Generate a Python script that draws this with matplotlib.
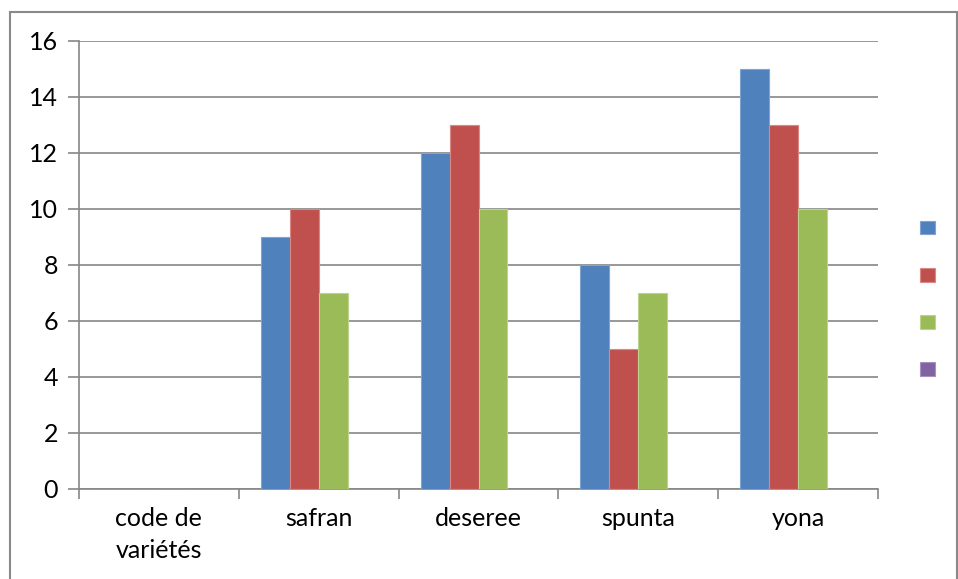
import numpy as np
import matplotlib
matplotlib.use("Agg")
import matplotlib.pyplot as plt
from matplotlib.patches import Rectangle

# ── Daten ─────────────────────────────────────────────────────────────────────
categories = ["code de\nvariétés", "safran", "deseree", "spunta", "yona"]
serie_1 = [0, 9, 12, 8, 15]
serie_2 = [0, 10, 13, 5, 13]
serie_3 = [0, 7, 10, 7, 10]
serie_4 = [0, 0, 0, 0, 0]
series = [serie_1, serie_2, serie_3, serie_4]
colors = ["#4F81BD", "#C0504D", "#9BBB59", "#8064A2"]
edges = ["#7FA3D3", "#D98885", "#BCD48C", "#A690C0"]
y_ticks = [0, 2, 4, 6, 8, 10, 12, 14, 16]

plt.rcParams["font.family"] = ["Lato", "DejaVu Sans"]

fig = plt.figure(figsize=(9.58, 5.79), dpi=100)
ax = fig.add_axes([79 / 958, 1 - 489 / 579, (878 - 79) / 958, (489 - 41) / 579])

x = np.arange(len(categories))
w = 0.181
handles = []
for k, (vals, c, ec) in enumerate(zip(series, colors, edges)):
    b = ax.bar(x + (k - 1.5) * w, vals, width=w, color=c, edgecolor=ec,
               linewidth=0.8, zorder=3)
    handles.append(b)

grid_c = "#868686"
ax.set_xlim(-0.5, len(categories) - 0.5)
ax.set_ylim(0, 16)
ax.set_yticks(y_ticks)
ax.yaxis.grid(True, color=grid_c, lw=1.2, zorder=0)
ax.set_xticks(x)
ax.set_xticklabels(categories, fontsize=18, linespacing=1.45)
ax.set_xticks(np.arange(-0.5, len(categories)), minor=True)
ax.tick_params(axis="x", which="major", length=0, pad=13)
ax.tick_params(axis="x", which="minor", length=7, width=1.2, color=grid_c)
ax.tick_params(axis="y", length=8, width=1.2, color=grid_c, labelsize=18, pad=7)
for s in ["top", "right"]:
    ax.spines[s].set_visible(False)
for s in ["left", "bottom"]:
    ax.spines[s].set_color(grid_c)
    ax.spines[s].set_linewidth(1.2)

# Legende ohne Beschriftung, nur Farbquadrate
fig.legend(handles, ["", "", "", ""], loc="center left",
           bbox_to_anchor=(920 / 958, 1 - 299 / 579), frameon=False,
           handlelength=1.0, handleheight=1.0, labelspacing=2.1,
           handletextpad=0, fontsize=11, borderpad=0, borderaxespad=0)

fig.patches.append(Rectangle((9.5 / 958, -0.05), (956.5 - 9.5) / 958,
                             1.05 - 11.5 / 579, transform=fig.transFigure,
                             fill=False, edgecolor="#898989", lw=1.5))

fig.savefig("out.png", dpi=100)
plt.close(fig)
